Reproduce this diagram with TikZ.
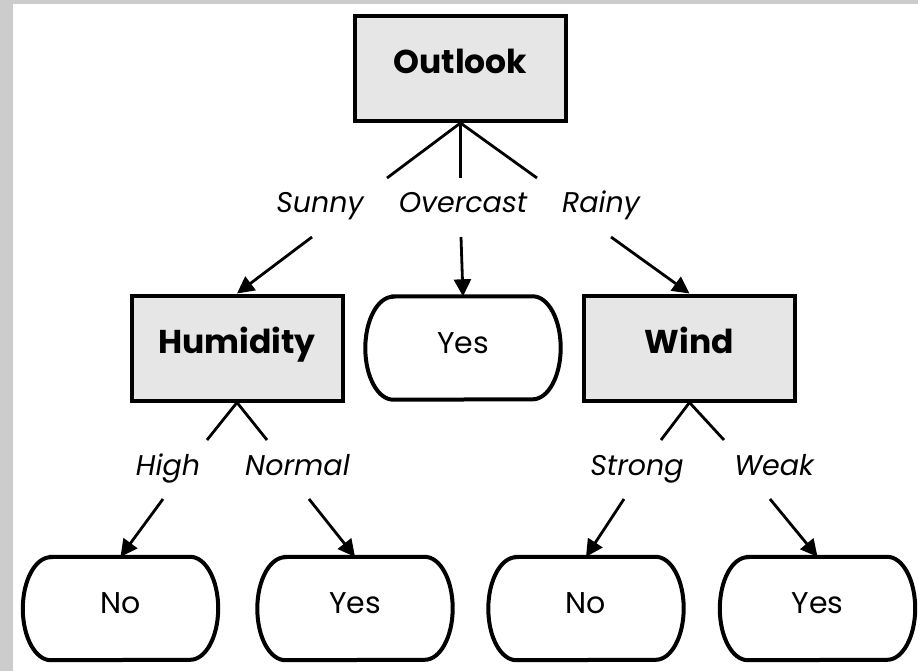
\documentclass[tikz,border=0pt]{standalone}
\usepackage{fontspec}
\setmainfont{Poppins}
\usetikzlibrary{arrows.meta}
\definecolor{frame}{HTML}{CCCCCC}
\definecolor{testfill}{HTML}{E6E6E6}
\begin{document}
\begin{tikzpicture}[x=1pt,y=1pt,
  test/.style={draw, line width=4pt, fill=testfill, minimum width=211pt, minimum height=105pt,
    font=\fontsize{33}{38}\selectfont\bfseries, text height=23pt, text depth=12pt, inner sep=0pt},
  leaf/.style={minimum width=195pt, minimum height=103pt, inner sep=0pt,
    font=\fontsize{30}{35}\selectfont, text height=22pt, text depth=12pt},
  leafline/.style={draw, line width=4pt},
  branch/.style={font=\fontsize{28.5}{33}\selectfont\itshape, anchor=base, inner sep=0pt},
  edge/.style={line width=2.8pt},
  arrow/.style={line width=2.8pt, -{Triangle[length=17pt,width=17pt]}}]
  % canvas
  \fill[frame] (0,0) rectangle (918,-671);
  \fill[white] (13,-4) rectangle (918,-671);
  \useasboundingbox (0,0) rectangle (918,-671);

  % decision nodes
  \node[test] (outlook)  at (460.5,-68.5) {Outlook};
  \node[test] (humidity) at (237,-348) {Humidity};
  \node[test] (wind)     at (689.5,-348) {Wind};

  % leaves
  \node[leaf] (yesO) at (463,-348) {Yes};
  \node[leaf] (noH)  at (120.5,-608.5) {No};
  \node[leaf] (yesH) at (355,-608.5) {Yes};
  \node[leaf] (noW)  at (586,-608.5) {No};
  \node[leaf] (yesW) at (817.5,-608.5) {Yes};
  % leaf outline: straight top and bottom, elliptic ends
  \foreach \n in {yesO,noH,yesH,noW,yesW}
    \draw[leafline] ([xshift=28pt]\n.north west) -- ([xshift=-28pt]\n.north east)
      arc[start angle=90,end angle=-90,x radius=28pt,y radius=51.5pt]
      -- ([xshift=28pt]\n.south west)
      arc[start angle=270,end angle=90,x radius=28pt,y radius=51.5pt] -- cycle;

  % branch labels
  \node[branch] (sunny)    at (320,-213) {Sunny};
  \node[branch] (overcast) at (463,-213) {Overcast};
  \node[branch] (rainy)    at (601,-213) {Rainy};
  \node[branch] (high)     at (168,-475) {High};
  \node[branch] (normal)   at (297.5,-475) {Normal};
  \node[branch] (strong)   at (637,-475) {Strong};
  \node[branch] (weak)     at (774,-475) {Weak};

  % free ends of the branch strokes
  \coordinate (sunnyTop)    at (387,-178);
  \coordinate (overcastTop) at (460.5,-178);
  \coordinate (rainyTop)    at (537,-178);
  \coordinate (sunnyBot)    at (312,-237);
  \coordinate (overcastBot) at (461,-237);
  \coordinate (rainyBot)    at (611,-237);
  \coordinate (highTop)     at (207,-440);
  \coordinate (normalTop)   at (267,-440);
  \coordinate (highBot)     at (163,-499);
  \coordinate (normalBot)   at (309,-499);
  \coordinate (strongTop)   at (661,-440);
  \coordinate (weakTop)     at (724,-440);
  \coordinate (strongBot)   at (624,-499);
  \coordinate (weakBot)     at (770,-499);

  % strokes leaving each test
  \draw[edge] (outlook.south) -- (sunnyTop);
  \draw[edge] (outlook.south) -- (overcastTop);
  \draw[edge] (outlook.south) -- (rainyTop);
  \draw[edge] (humidity.south) -- (highTop);
  \draw[edge] (humidity.south) -- (normalTop);
  \draw[edge] (wind.south) -- (strongTop);
  \draw[edge] (wind.south) -- (weakTop);

  % arrows into the children
  \draw[arrow] (sunnyBot) -- (humidity.north);
  \draw[arrow] (overcastBot) -- (yesO.north);
  \draw[arrow] (rainyBot) -- (wind.north);
  \draw[arrow] (highBot) -- (noH.north);
  \draw[arrow] (normalBot) -- (yesH.north);
  \draw[arrow] (strongBot) -- (noW.north);
  \draw[arrow] (weakBot) -- (yesW.north);
\end{tikzpicture}
\end{document}
